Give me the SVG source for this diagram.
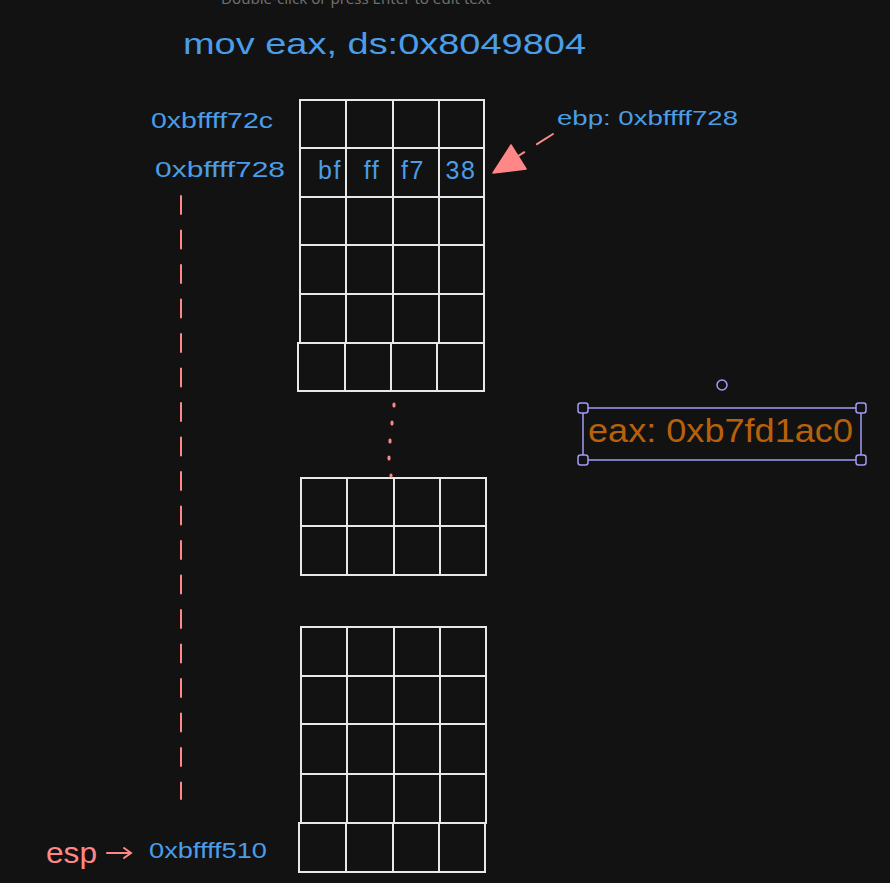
<svg xmlns="http://www.w3.org/2000/svg" width="890" height="883" viewBox="0 0 890 883">
<style>
.cell{fill:#121212;stroke:#e8e8e8;stroke-width:2}
.hand{font-family:"Liberation Sans","DejaVu Sans",sans-serif;font-variant-ligatures:none}
.blue{fill:#4a9de6}
.pink{fill:#ff8787}
.byte{font-size:25px;text-anchor:middle;letter-spacing:1.5px}
.hint{fill:#6f6f6f;font-family:"Noto Sans","Liberation Sans",sans-serif;font-size:15px}
.sel{fill:#121212;stroke:#a09cf5;stroke-width:1.5}
.conn{stroke:#ff8787;fill:none;stroke-width:2;stroke-linecap:round}
</style>
<rect x="0" y="0" width="890" height="883" fill="#121212"/>

<text class="hint" x="221" y="4" textLength="270" lengthAdjust="spacingAndGlyphs">Double-click or press Enter to edit text</text>

<g id="title">
<text class="hand blue" x="183" y="54" font-size="30" textLength="403" lengthAdjust="spacingAndGlyphs">mov eax, ds:0x8049804</text>
</g>

<g id="stack-top">
<rect class="cell" x="300" y="100" width="46" height="48"/><rect class="cell" x="346" y="100" width="47" height="48"/><rect class="cell" x="393" y="100" width="46" height="48"/><rect class="cell" x="439" y="100" width="45" height="48"/>
<rect class="cell" x="300" y="148" width="46" height="49"/><rect class="cell" x="346" y="148" width="47" height="49"/><rect class="cell" x="393" y="148" width="46" height="49"/><rect class="cell" x="439" y="148" width="45" height="49"/>
<rect class="cell" x="300" y="197" width="46" height="48"/><rect class="cell" x="346" y="197" width="47" height="48"/><rect class="cell" x="393" y="197" width="46" height="48"/><rect class="cell" x="439" y="197" width="45" height="48"/>
<rect class="cell" x="300" y="245" width="46" height="49"/><rect class="cell" x="346" y="245" width="47" height="49"/><rect class="cell" x="393" y="245" width="46" height="49"/><rect class="cell" x="439" y="245" width="45" height="49"/>
<rect class="cell" x="300" y="294" width="46" height="49"/><rect class="cell" x="346" y="294" width="47" height="49"/><rect class="cell" x="393" y="294" width="46" height="49"/><rect class="cell" x="439" y="294" width="45" height="49"/>
<rect class="cell" x="298" y="343" width="47" height="48"/><rect class="cell" x="345" y="343" width="46" height="48"/><rect class="cell" x="391" y="343" width="46" height="48"/><rect class="cell" x="437" y="343" width="47" height="48"/>
<text class="hand blue byte" x="330" y="179">bf</text>
<text class="hand blue byte" x="372" y="179">ff</text>
<text class="hand blue byte" x="413" y="179">f7</text>
<text class="hand blue byte" x="461" y="179" letter-spacing="4">38</text>
</g>

<g id="stack-middle">
<rect class="cell" x="301" y="478" width="46" height="48"/><rect class="cell" x="347" y="478" width="47" height="48"/><rect class="cell" x="394" y="478" width="46" height="48"/><rect class="cell" x="440" y="478" width="46" height="48"/>
<rect class="cell" x="301" y="526" width="46" height="49"/><rect class="cell" x="347" y="526" width="47" height="49"/><rect class="cell" x="394" y="526" width="46" height="49"/><rect class="cell" x="440" y="526" width="46" height="49"/>
</g>

<g id="stack-bottom">
<rect class="cell" x="301" y="627" width="46" height="49"/><rect class="cell" x="347" y="627" width="47" height="49"/><rect class="cell" x="394" y="627" width="46" height="49"/><rect class="cell" x="440" y="627" width="46" height="49"/>
<rect class="cell" x="301" y="676" width="46" height="48"/><rect class="cell" x="347" y="676" width="47" height="48"/><rect class="cell" x="394" y="676" width="46" height="48"/><rect class="cell" x="440" y="676" width="46" height="48"/>
<rect class="cell" x="301" y="724" width="46" height="50"/><rect class="cell" x="347" y="724" width="47" height="50"/><rect class="cell" x="394" y="724" width="46" height="50"/><rect class="cell" x="440" y="724" width="46" height="50"/>
<rect class="cell" x="301" y="774" width="46" height="49"/><rect class="cell" x="347" y="774" width="47" height="49"/><rect class="cell" x="394" y="774" width="46" height="49"/><rect class="cell" x="440" y="774" width="46" height="49"/>
<rect class="cell" x="299" y="823" width="47" height="49"/><rect class="cell" x="346" y="823" width="47" height="49"/><rect class="cell" x="393" y="823" width="46" height="49"/><rect class="cell" x="439" y="823" width="46" height="49"/>
</g>

<g id="addr-labels">
<text class="hand blue" x="151" y="128" font-size="22" textLength="122" lengthAdjust="spacingAndGlyphs">0xbffff72c</text>
<text class="hand blue" x="155" y="177" font-size="22" textLength="130" lengthAdjust="spacingAndGlyphs">0xbffff728</text>
<text class="hand blue" x="149" y="858" font-size="22" textLength="118" lengthAdjust="spacingAndGlyphs">0xbffff510</text>
</g>

<g id="ebp-label">
<text class="hand blue" x="557" y="125" font-size="20" textLength="181" lengthAdjust="spacingAndGlyphs">ebp: 0xbffff728</text>
</g>

<g id="esp-label">
<text class="hand pink" x="46" y="863" font-size="30" textLength="51" lengthAdjust="spacingAndGlyphs">esp</text>
</g>

<g id="eax-box">
<rect class="sel" x="583" y="408" width="278" height="52" fill="none"/>
<rect class="sel" x="578" y="403" width="10" height="10" rx="2.5"/>
<rect class="sel" x="856" y="403" width="10" height="10" rx="2.5"/>
<rect class="sel" x="578" y="455" width="10" height="10" rx="2.5"/>
<rect class="sel" x="856" y="455" width="10" height="10" rx="2.5"/>
<circle class="sel" cx="722" cy="385" r="5"/>
<text class="hand" fill="#b8610a" x="588" y="442" font-size="34" textLength="265" lengthAdjust="spacingAndGlyphs">eax: 0xb7fd1ac0</text>
</g>

<g id="connectors">
<line class="conn" x1="553" y1="134" x2="512" y2="160" stroke-dasharray="19 15"/>
<polygon points="493,173 511,145 526,169" fill="#ff8787" stroke="#ff8787" stroke-width="1.5" stroke-linejoin="round"/>
<line class="conn" x1="181" y1="196" x2="181" y2="799" stroke-dasharray="18 16.5" stroke-linecap="butt"/>
<g stroke="#ff8787" stroke-width="3" stroke-linecap="round">
<line x1="394" y1="404" x2="394" y2="406"/>
<line x1="392" y1="422" x2="392" y2="424"/>
<line x1="390" y1="440" x2="390" y2="442"/>
<line x1="389" y1="457" x2="389" y2="459"/>
<line x1="391" y1="475" x2="391" y2="476"/>
</g>
<path class="conn" d="M107 853 H130 M124 848 L131 853 L124 858" stroke-width="1.8"/>
</g>
</svg>
